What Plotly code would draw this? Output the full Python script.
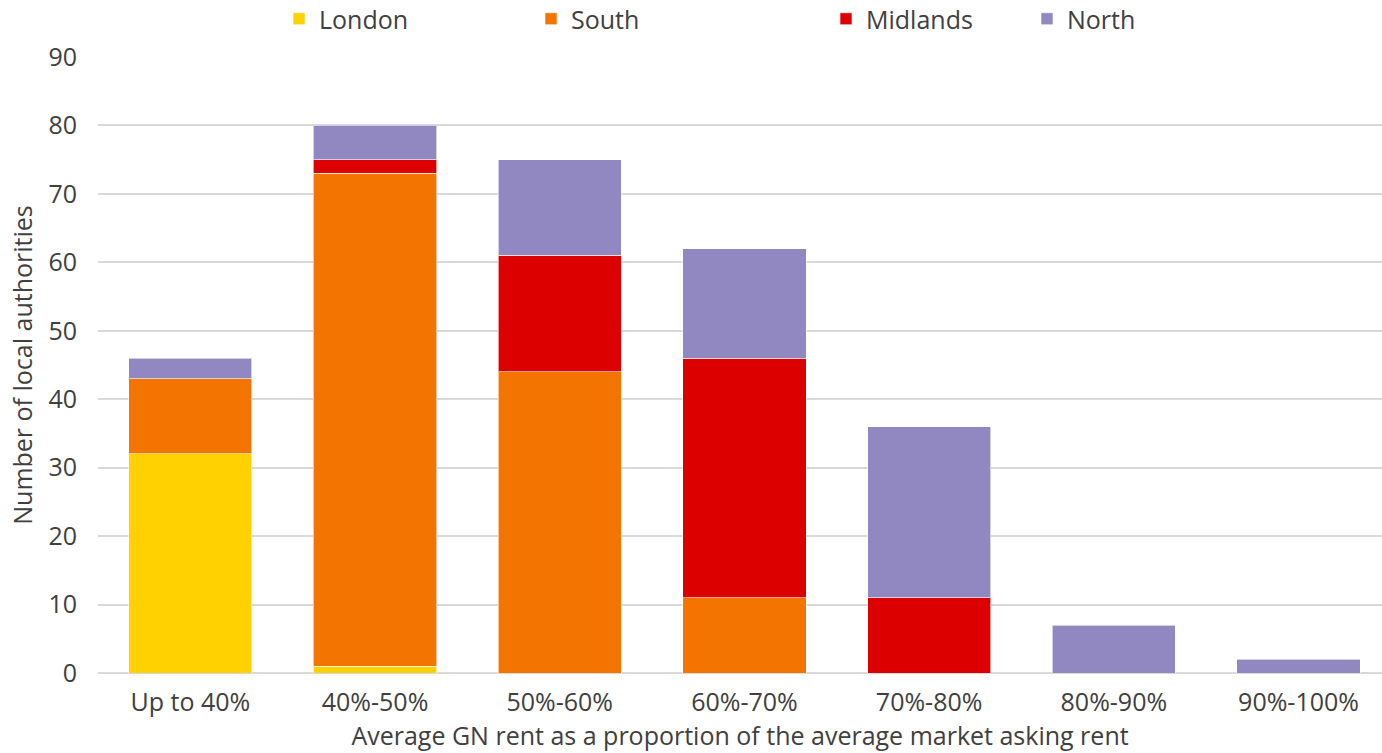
import plotly.graph_objects as go

categories = ["Up to 40%", "40%-50%", "50%-60%", "60%-70%", "70%-80%", "80%-90%", "90%-100%"]
london = [32, 1, 0, 0, 0, 0, 0]
south = [11, 72, 44, 11, 0, 0, 0]
midlands = [0, 2, 17, 35, 11, 0, 0]
north = [3, 5, 14, 16, 25, 7, 2]

series = [
    ("London", london, "#FFD100"),
    ("South", south, "#F47400"),
    ("Midlands", midlands, "#DC0000"),
    ("North", north, "#9188C2"),
]

FONT = "Open Sans"
FS = 25
TXT = "#404040"
W, H = 1382, 753
ML, MR, MT, MB = 98, 0, 57, 80
pw = W - ML - MR
ph = H - MT - MB

legend_px = [279, 531, 826, 1027]
legend_py = 19

fig = go.Figure()
for i, (name, vals, col) in enumerate(series):
    lg = "legend" if i == 0 else f"legend{i+1}"
    fig.add_trace(go.Bar(
        name=name, x=categories, y=vals,
        marker=dict(color=col, line=dict(color="rgba(255,255,255,0.6)", width=1)),
        legend=lg,
    ))

layout_legends = {}
for i, px in enumerate(legend_px):
    key = "legend" if i == 0 else f"legend{i+1}"
    layout_legends[key] = dict(
        x=(px - ML) / pw, y=1.0 + (MT - legend_py) / ph, xanchor="left", yanchor="middle",
        orientation="h", font=dict(family=FONT, size=FS, color=TXT),
        bgcolor="rgba(0,0,0,0)", itemwidth=30, tracegroupgap=0,
    )

fig.update_layout(
    barmode="stack",
    bargap=0.333,
    width=W, height=H,
    margin=dict(l=ML, r=MR, t=MT, b=MB, autoexpand=False),
    plot_bgcolor="white", paper_bgcolor="white",
    font=dict(family=FONT, size=FS, color=TXT),
    showlegend=True,
    **layout_legends,
)
fig.update_xaxes(
    title=dict(text="Average GN rent as a proportion of the average market asking rent",
               font=dict(family=FONT, size=FS, color=TXT), standoff=2),
    tickfont=dict(family=FONT, size=FS, color=TXT),
    range=[-0.5, 6.452], automargin=False,
    showgrid=False, showline=False, ticks="", ticklabelstandoff=12,
)
fig.update_yaxes(
    title=dict(text="Number of local authorities", font=dict(family=FONT, size=FS, color=TXT), standoff=8),
    range=[0, 90], dtick=10, tickfont=dict(family=FONT, size=FS, color=TXT), automargin=False,
    showgrid=True, gridcolor="#D9D9D9", gridwidth=2, zeroline=True, zerolinecolor="#D9D9D9", zerolinewidth=2,
    ticks="", ticklabelstandoff=20,
)

fig.write_html("out.html")
